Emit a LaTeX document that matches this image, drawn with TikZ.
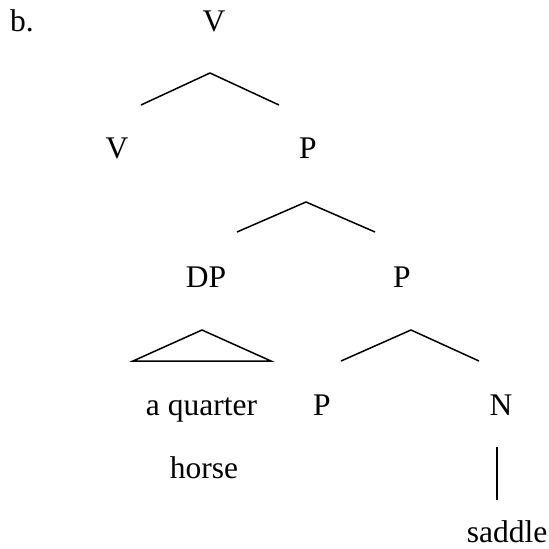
\documentclass[tikz,border=0pt]{standalone}
\usepackage{fontspec}
\setmainfont{Liberation Serif}
\begin{document}
\begin{tikzpicture}[x=1pt,y=-1pt,
  lab/.style={anchor=base,inner sep=0pt,font=\fontsize{31.5}{38}\selectfont},
  br/.style={line width=1.5pt,line join=miter}]
\useasboundingbox (0,0) rectangle (549,549);
% labels
\node[lab,anchor=base west] (b) at (10,31) {b.};
\node[lab] (v0) at (214,31) {V};
\node[lab] (v1) at (117,158) {V};
\node[lab] (p1) at (308,158) {P};
\node[lab] (dp) at (206,287) {DP};
\node[lab] (p2) at (402,287) {P};
\node[lab] (aq) at (201.5,415) {a quarter};
\node[lab] (horse) at (204,478) {horse};
\node[lab] (p3) at (322,415) {P};
\node[lab] (n) at (501,415) {N};
\node[lab] (saddle) at (507,542) {saddle};
% branch points
\coordinate (a0) at (210,73);
\coordinate (l0) at (141,105);
\coordinate (r0) at (279,105);
\coordinate (a1) at (306,202);
\coordinate (l1) at (237,232);
\coordinate (r1) at (375,232);
\coordinate (a2) at (202,330);
\coordinate (l2) at (133,361);
\coordinate (r2) at (271,361);
\coordinate (a3) at (411,330);
\coordinate (l3) at (341,361);
\coordinate (r3) at (479,361);
\coordinate (nt) at (497,447);
\coordinate (nb) at (497,500);
% connectors
\draw[br] (l0) -- (a0) -- (r0);
\draw[br] (l1) -- (a1) -- (r1);
\draw[br] (l2) -- (a2) -- (r2) -- cycle;
\draw[br] (l3) -- (a3) -- (r3);
\draw[br] (nt) -- (nb);
\end{tikzpicture}
\end{document}
